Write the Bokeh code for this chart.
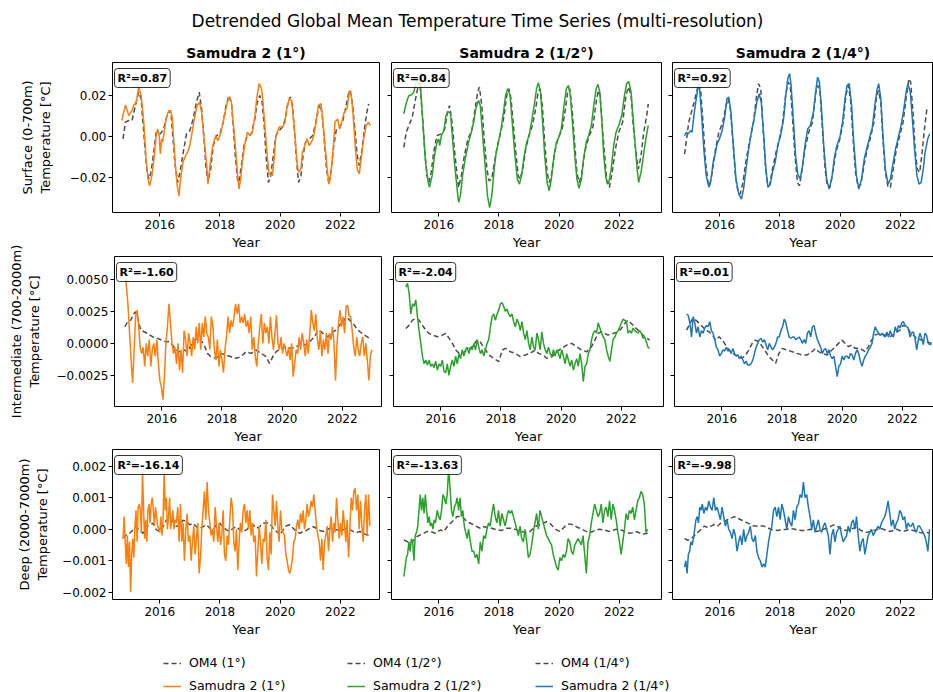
import numpy as np
from bokeh.plotting import figure
from bokeh.layouts import column, row
from bokeh.models import Range1d, FixedTicker, Label, Legend, LegendItem
from bokeh.embed import file_html
from bokeh.resources import INLINE

FONT = "DejaVu Sans"

# ---------------------------------------------------------------- labels
SUPTITLE = "Detrended Global Mean Temperature Time Series (multi-resolution)"
RESOLUTIONS = ["1°", "1/2°", "1/4°"]
SAMUDRA_COLORS = ["#ff7f0e", "#2ca02c", "#1f77b4"]
ROW_LABELS = ["Surface (0-700m)\nTemperature [°C]",
              "Intermediate (700-2000m)\nTemperature [°C]",
              "Deep (2000-7000m)\nTemperature [°C]"]
R2 = [["0.87", "0.84", "0.92"],
      ["-1.60", "-2.04", "0.01"],
      ["-16.14", "-13.63", "-9.98"]]
X_TICKS = [2016, 2018, 2020, 2022]
Y_TICKS = [[-0.02, 0.0, 0.02],
           [-0.0025, 0.0, 0.0025, 0.005],
           [-0.002, -0.001, 0.0, 0.001, 0.002]]
Y_TICK_LABELS = [["−0.02", "0.00", "0.02"],
                 ["−0.0025", "0.0000", "0.0025", "0.0050"],
                 ["−0.002", "−0.001", "0.000", "0.001", "0.002"]]

# ---------------------------------------------------------------- data
# Surface (0-700 m), values in 1e-3 degC
SURF_OM4_T_1 = [2014.78, 2014.86, 2014.97, 2015.08, 2015.19, 2015.30, 2015.38, 2015.44, 2015.52, 2015.58,
                2015.64, 2015.71, 2015.80, 2015.88, 2016.02, 2016.13, 2016.24, 2016.32, 2016.38, 2016.44,
                2016.51, 2016.60, 2016.69, 2016.80, 2016.89, 2017.00, 2017.11, 2017.22, 2017.31, 2017.39,
                2017.47, 2017.53, 2017.60, 2017.69, 2017.78, 2017.89, 2018.00, 2018.11, 2018.20, 2018.30,
                2018.38, 2018.44, 2018.51, 2018.58, 2018.63, 2018.71, 2018.80, 2018.91, 2019.04, 2019.16,
                2019.24, 2019.32, 2019.40, 2019.47, 2019.53, 2019.61, 2019.69, 2019.77, 2019.86, 2019.97,
                2020.08, 2020.17, 2020.24, 2020.33, 2020.41, 2020.48, 2020.54, 2020.61, 2020.69, 2020.76,
                2020.84, 2020.97, 2021.08, 2021.19, 2021.27, 2021.33, 2021.40, 2021.47, 2021.54, 2021.62,
                2021.70, 2021.78, 2021.87, 2021.97, 2022.07, 2022.17, 2022.28, 2022.33, 2022.41, 2022.49,
                2022.56, 2022.63, 2022.72, 2022.80, 2022.88, 2022.94]
SURF_OM4_V_1 = [-1.1, 7.0, 7.8, 7.8, 15.1, 21.6, 18.4, 7.0, -7.6, -17.4,
                -20.7, -17.4, -7.6, 2.1, 1.3, 3.7, 10.2, 12.7, 10.2, -1.1,
                -14.1, -22.3, -15.8, -6.0, 1.3, 2.9, 8.6, 16.7, 21.6, 13.5,
                -1.1, -14.1, -22.3, -15.8, -4.4, 0.5, 1.3, 7.0, 15.1, 20.0,
                16.7, 5.4, -9.3, -20.7, -22.3, -14.1, -4.4, 0.5, 1.3, 8.6,
                16.7, 20.0, 16.7, 5.4, -9.3, -22.3, -19.0, -9.3, 0.5, 2.9,
                4.6, 8.6, 15.1, 19.2, 15.1, 2.1, -10.9, -22.3, -19.0, -9.3,
                -2.8, -1.1, 0.5, 7.0, 13.5, 15.9, 10.2, -2.8, -15.8, -23.1,
                -15.8, -4.4, 3.7, 4.6, 7.0, 13.5, 21.6, 22.4, 15.1, 2.1,
                -9.3, -14.1, -6.0, 3.7, 11.9, 15.9]
SURF_S2_T_1 = [2014.74, 2014.86, 2014.97, 2015.08, 2015.13, 2015.22, 2015.30, 2015.38, 2015.47, 2015.54,
               2015.61, 2015.66, 2015.74, 2015.82, 2015.88, 2015.93, 2015.98, 2016.02, 2016.06, 2016.09,
               2016.13, 2016.21, 2016.28, 2016.36, 2016.41, 2016.47, 2016.52, 2016.58, 2016.64, 2016.69,
               2016.77, 2016.86, 2016.97, 2017.04, 2017.13, 2017.24, 2017.32, 2017.39, 2017.47, 2017.56,
               2017.60, 2017.67, 2017.76, 2017.86, 2017.93, 2018.02, 2018.13, 2018.22, 2018.30, 2018.38,
               2018.44, 2018.52, 2018.58, 2018.63, 2018.69, 2018.74, 2018.82, 2018.91, 2019.00, 2019.08,
               2019.16, 2019.22, 2019.30, 2019.38, 2019.43, 2019.50, 2019.57, 2019.63, 2019.74, 2019.80,
               2019.86, 2019.97, 2020.08, 2020.16, 2020.22, 2020.30, 2020.38, 2020.43, 2020.50, 2020.56,
               2020.61, 2020.69, 2020.74, 2020.82, 2020.89, 2020.97, 2021.06, 2021.13, 2021.19, 2021.27,
               2021.36, 2021.41, 2021.49, 2021.56, 2021.62, 2021.69, 2021.77, 2021.82, 2021.91, 2021.98,
               2022.04, 2022.13, 2022.22, 2022.30, 2022.38, 2022.44, 2022.50, 2022.56, 2022.63, 2022.69,
               2022.77, 2022.86, 2022.93, 2023.00]
SURF_S2_V_1 = [7.8, 15.4, 10.2, 12.7, 15.1, 16.7, 24.1, 20.0, 7.0, -9.3,
               -20.7, -23.9, -19.0, -9.3, 0.5, 3.7, 0.5, -8.5, -1.1, -2.8,
               0.5, 8.6, 11.9, 12.7, 9.4, -2.8, -14.1, -23.9, -28.8, -20.7,
               -12.5, -9.3, -6.0, -1.1, 7.0, 15.1, 16.7, 11.9, -1.1, -14.1,
               -23.1, -14.1, -4.4, 0.5, -2.0, 1.3, 8.6, 15.1, 19.2, 16.7,
               7.0, -6.0, -17.4, -25.5, -20.7, -12.5, -4.4, 2.1, 0.5, 2.1,
               10.2, 18.4, 25.7, 23.3, 16.7, 3.7, -9.3, -18.2, -19.0, -10.9,
               0.5, 4.6, 4.6, 7.0, 13.5, 18.4, 17.6, 10.2, -1.1, -12.5,
               -17.4, -15.8, -7.6, -4.4, -1.1, -4.4, -2.0, 1.3, 7.0, 15.1,
               15.9, 8.6, -4.4, -15.8, -23.1, -17.4, -4.4, 7.0, 8.6, 3.7,
               7.0, 11.9, 13.5, 22.4, 18.4, 7.0, -6.0, -15.8, -18.2, -10.9,
               -1.1, 5.4, 7.0, 5.4]

SURF_OM4_T_2 = [2014.84, 2014.92, 2015.01, 2015.12, 2015.23, 2015.32, 2015.37, 2015.45, 2015.54, 2015.61,
                2015.67, 2015.75, 2015.83, 2015.94, 2016.09, 2016.20, 2016.30, 2016.36, 2016.44, 2016.53,
                2016.61, 2016.66, 2016.75, 2016.85, 2016.97, 2017.10, 2017.21, 2017.29, 2017.35, 2017.43,
                2017.51, 2017.60, 2017.67, 2017.76, 2017.85, 2017.95, 2018.06, 2018.17, 2018.26, 2018.33,
                2018.40, 2018.48, 2018.57, 2018.64, 2018.70, 2018.79, 2018.89, 2019.00, 2019.11, 2019.22,
                2019.30, 2019.37, 2019.44, 2019.52, 2019.60, 2019.67, 2019.74, 2019.85, 2019.96, 2020.10,
                2020.21, 2020.28, 2020.35, 2020.43, 2020.52, 2020.59, 2020.66, 2020.74, 2020.85, 2020.98,
                2021.12, 2021.23, 2021.30, 2021.36, 2021.44, 2021.53, 2021.59, 2021.67, 2021.76, 2021.87,
                2021.98, 2022.11, 2022.22, 2022.30, 2022.39, 2022.46, 2022.55, 2022.63, 2022.72, 2022.81,
                2022.91, 2022.96]
SURF_OM4_V_2 = [-5.2, 2.1, 5.4, 9.4, 18.4, 24.9, 26.5, 11.9, -7.6, -19.0,
                -22.3, -17.4, -7.6, 0.5, 1.3, 3.7, 12.7, 15.1, 7.0, -7.6,
                -19.0, -24.7, -19.0, -9.3, -1.1, 2.9, 13.5, 21.6, 24.1, 15.1,
                -1.1, -15.8, -21.5, -20.7, -12.5, -4.4, 2.1, 10.2, 20.0, 23.3,
                18.4, 5.4, -9.3, -19.0, -20.7, -15.8, -6.0, 0.5, 5.4, 13.5,
                21.6, 23.3, 15.1, -2.8, -17.4, -22.3, -19.0, -7.6, -1.1, 3.7,
                13.5, 21.6, 23.3, 13.5, -4.4, -17.4, -22.3, -19.0, -7.6, -0.3,
                4.6, 16.7, 22.4, 20.0, 3.7, -12.5, -22.3, -24.7, -17.4, -6.0,
                2.1, 7.0, 20.0, 24.1, 20.0, 5.4, -7.6, -15.8, -9.3, 2.1,
                10.2, 15.9]
SURF_S2_T_2 = [2014.84, 2014.90, 2014.95, 2015.01, 2015.10, 2015.17, 2015.25, 2015.34, 2015.39, 2015.47,
               2015.56, 2015.65, 2015.69, 2015.78, 2015.86, 2015.94, 2016.00, 2016.03, 2016.09, 2016.17,
               2016.24, 2016.31, 2016.39, 2016.44, 2016.52, 2016.61, 2016.66, 2016.72, 2016.79, 2016.88,
               2016.99, 2017.08, 2017.16, 2017.23, 2017.32, 2017.38, 2017.45, 2017.54, 2017.62, 2017.69,
               2017.76, 2017.84, 2017.91, 2017.98, 2018.07, 2018.15, 2018.22, 2018.29, 2018.37, 2018.44,
               2018.53, 2018.61, 2018.68, 2018.75, 2018.84, 2018.92, 2019.00, 2019.08, 2019.17, 2019.25,
               2019.31, 2019.38, 2019.45, 2019.52, 2019.60, 2019.67, 2019.74, 2019.83, 2019.91, 2019.99,
               2020.07, 2020.16, 2020.24, 2020.31, 2020.37, 2020.44, 2020.52, 2020.59, 2020.66, 2020.74,
               2020.81, 2020.90, 2020.98, 2021.07, 2021.15, 2021.23, 2021.29, 2021.35, 2021.42, 2021.48,
               2021.56, 2021.64, 2021.73, 2021.81, 2021.89, 2021.98, 2022.08, 2022.17, 2022.24, 2022.31,
               2022.39, 2022.44, 2022.52, 2022.59, 2022.64, 2022.72, 2022.80, 2022.88, 2022.96]
SURF_S2_V_2 = [11.1, 15.1, 17.6, 20.0, 20.3, 21.6, 26.5, 28.1, 24.9, 7.0,
               -12.5, -22.3, -24.7, -19.0, -9.3, -2.8, -1.1, -4.4, 0.5, 2.9,
               10.2, 12.2, 11.1, 2.1, -12.5, -25.5, -32.0, -28.8, -19.0, -10.9,
               -2.8, 2.1, 7.0, 13.5, 17.6, 15.1, 2.1, -14.1, -28.8, -34.5,
               -28.8, -15.8, -7.6, -2.8, 3.7, 11.9, 20.0, 23.3, 20.0, 7.0,
               -9.3, -20.7, -23.1, -19.0, -9.3, -2.8, 0.5, 7.0, 15.1, 23.3,
               26.2, 21.6, 7.0, -9.3, -22.3, -26.3, -20.7, -9.3, -2.8, -0.3,
               3.7, 15.1, 23.3, 24.9, 20.0, 7.0, -9.3, -20.7, -25.2, -20.7,
               -10.9, -2.8, 0.5, 5.4, 15.1, 23.3, 25.4, 21.6, 7.0, -9.3,
               -20.7, -23.1, -15.8, -4.4, 2.1, 5.4, 10.2, 20.0, 25.7, 26.8,
               21.6, 11.9, -2.8, -15.8, -22.3, -17.4, -9.3, -1.1, 5.4]

SURF_OM4_T_3 = [2014.83, 2014.90, 2014.97, 2015.06, 2015.15, 2015.24, 2015.31, 2015.37, 2015.45, 2015.53,
                2015.61, 2015.67, 2015.75, 2015.86, 2015.97, 2016.10, 2016.21, 2016.28, 2016.35, 2016.44,
                2016.52, 2016.61, 2016.68, 2016.77, 2016.88, 2017.01, 2017.12, 2017.21, 2017.29, 2017.36,
                2017.42, 2017.51, 2017.58, 2017.65, 2017.75, 2017.87, 2017.98, 2018.09, 2018.19, 2018.27,
                2018.34, 2018.41, 2018.50, 2018.58, 2018.65, 2018.72, 2018.83, 2018.97, 2019.08, 2019.19,
                2019.25, 2019.33, 2019.41, 2019.50, 2019.57, 2019.66, 2019.75, 2019.86, 2019.99, 2020.10,
                2020.19, 2020.27, 2020.34, 2020.43, 2020.51, 2020.60, 2020.69, 2020.79, 2020.90, 2021.01,
                2021.12, 2021.20, 2021.27, 2021.35, 2021.42, 2021.50, 2021.59, 2021.67, 2021.76, 2021.87,
                2021.98, 2022.09, 2022.19, 2022.28, 2022.34, 2022.42, 2022.49, 2022.56, 2022.64, 2022.71,
                2022.80, 2022.88, 2022.93]
SURF_OM4_V_3 = [-8.5, -1.1, 7.0, 11.9, 16.7, 22.4, 25.7, 21.6, 5.4, -12.5,
                -22.3, -23.9, -17.4, -6.0, 2.1, 7.0, 15.1, 18.4, 13.5, -2.8,
                -19.0, -27.2, -28.0, -22.3, -10.9, -1.1, 7.0, 18.4, 25.7, 23.3,
                8.6, -12.5, -22.3, -23.9, -15.8, -7.6, -1.1, 7.0, 20.0, 26.5,
                24.9, 10.2, -9.3, -22.3, -23.9, -17.4, -6.0, 2.9, 7.0, 21.6,
                24.9, 21.6, 3.7, -15.8, -23.9, -24.7, -17.4, -7.6, -1.1, 7.0,
                20.0, 24.9, 18.4, -1.1, -17.4, -24.7, -23.1, -14.1, -6.0, -0.3,
                7.0, 18.4, 22.4, 16.7, -1.1, -17.4, -24.7, -24.7, -15.8, -6.0,
                0.5, 7.0, 18.4, 28.1, 26.5, 11.9, -6.0, -15.8, -17.4, -9.3,
                3.7, 13.5, 14.3]
SURF_S2_T_3 = [2014.83, 2014.89, 2014.95, 2015.03, 2015.08, 2015.14, 2015.22, 2015.28, 2015.33, 2015.39,
               2015.47, 2015.55, 2015.64, 2015.71, 2015.78, 2015.86, 2015.91, 2015.99, 2016.08, 2016.17,
               2016.24, 2016.30, 2016.37, 2016.45, 2016.54, 2016.63, 2016.72, 2016.79, 2016.87, 2016.96,
               2017.05, 2017.14, 2017.23, 2017.31, 2017.38, 2017.46, 2017.53, 2017.60, 2017.68, 2017.75,
               2017.84, 2017.93, 2018.02, 2018.12, 2018.19, 2018.26, 2018.32, 2018.37, 2018.45, 2018.52,
               2018.59, 2018.67, 2018.75, 2018.83, 2018.92, 2019.01, 2019.11, 2019.20, 2019.25, 2019.31,
               2019.38, 2019.46, 2019.55, 2019.63, 2019.72, 2019.80, 2019.89, 2019.99, 2020.08, 2020.16,
               2020.23, 2020.30, 2020.38, 2020.45, 2020.54, 2020.62, 2020.71, 2020.80, 2020.88, 2020.98,
               2021.07, 2021.15, 2021.23, 2021.28, 2021.35, 2021.42, 2021.50, 2021.59, 2021.67, 2021.76,
               2021.84, 2021.92, 2022.01, 2022.10, 2022.19, 2022.25, 2022.33, 2022.39, 2022.47, 2022.55,
               2022.62, 2022.69, 2022.76, 2022.82, 2022.91, 2022.97]
SURF_S2_V_3 = [0.5, 2.1, 1.3, 2.9, 2.1, 10.2, 18.4, 24.1, 23.3, 11.9,
               -6.0, -19.0, -24.7, -20.7, -12.5, -7.6, -3.6, -1.1, 2.9, 10.2,
               18.4, 19.2, 11.9, -4.4, -20.7, -28.0, -30.4, -25.5, -15.8, -6.0,
               2.1, 8.6, 16.7, 20.8, 16.7, 0.5, -15.8, -24.7, -23.1, -17.4,
               -12.5, -4.4, 0.5, 8.6, 20.0, 28.1, 30.6, 24.9, 7.0, -9.3,
               -18.2, -20.7, -14.1, -4.4, 3.7, 5.4, 11.9, 23.3, 28.9, 26.5,
               13.5, -6.0, -20.7, -25.5, -20.7, -10.9, -4.4, -0.3, 7.0, 18.4,
               24.9, 25.7, 15.1, -2.8, -19.0, -25.5, -20.7, -10.9, -6.0, -0.3,
               4.6, 15.1, 23.3, 25.7, 18.4, 0.5, -15.8, -23.1, -20.7, -12.5,
               -6.0, -1.1, 4.6, 11.9, 21.6, 25.7, 21.6, 10.2, -6.0, -19.0,
               -23.1, -22.3, -15.8, -7.6, -1.1, 1.3]

# Intermediate (700-2000 m), values in 1e-4 degC
MID_OM4_T_1 = [2014.78, 2014.86, 2014.97, 2015.08, 2015.13, 2015.19, 2015.30, 2015.41, 2015.52, 2015.69,
               2015.86, 2016.00, 2016.13, 2016.24, 2016.36, 2016.47, 2016.58, 2016.74, 2016.86, 2016.97,
               2017.08, 2017.19, 2017.30, 2017.41, 2017.52, 2017.63, 2017.80, 2017.97, 2018.13, 2018.30,
               2018.47, 2018.63, 2018.80, 2018.97, 2019.13, 2019.30, 2019.47, 2019.58, 2019.69, 2019.80,
               2019.97, 2020.13, 2020.30, 2020.47, 2020.63, 2020.80, 2020.97, 2021.08, 2021.19, 2021.30,
               2021.41, 2021.52, 2021.69, 2021.80, 2021.91, 2022.02, 2022.13, 2022.24, 2022.36, 2022.47,
               2022.58, 2022.74, 2022.91, 2022.98]
MID_OM4_V_1 = [13.0, 16.9, 18.2, 23.4, 24.7, 20.8, 10.4, 9.1, 7.8, 5.2,
               3.9, 2.6, 1.3, 1.3, -1.3, -5.2, -6.5, -5.2, -6.5, -1.3,
               2.6, 3.9, 2.6, -1.3, -7.8, -10.4, -11.7, -7.8, -9.1, -10.4,
               -11.7, -10.4, -6.5, -7.8, -5.2, -7.8, -10.4, -15.6, -10.4, -6.5,
               -3.9, -2.6, -3.9, -2.6, 0.0, -1.3, 2.6, 5.2, 10.4, 9.1,
               6.5, 5.2, 9.1, 10.4, 14.3, 16.9, 20.8, 18.2, 15.6, 11.7,
               9.1, 6.5, 3.9, 3.9]
MID_S2_V_1 = [55, 44, 29, 8, -13, -31, -5, 21, 26, 13,
              -3, -8, -3, -18, 0, -10, 3, -18, -5, 0,
              -10, 3, -16, -29, -34, -44, -26, 0, 13, 31,
              16, 0, -8, -3, -16, 0, -21, -5, -23, 10,
              3, -10, 8, 0, -10, 5, -5, 13, 0, 16,
              -5, 16, 5, 21, 8, 5, -5, 21, 13, -5,
              -13, 3, -18, -5, -13, -23, -5, 5, 21, 8,
              18, 13, 21, 31, 23, 31, 16, 21, 16, 23,
              13, 18, 8, 21, -5, 5, -10, -18, 0, 13,
              23, 0, 16, 8, 13, 0, 21, 5, -5, 8,
              22, 0, -5, 5, -8, 0, -5, -10, -3, -13,
              0, -26, -16, -5, -8, 5, -5, 8, 0, -10,
              3, -8, 8, 26, 16, 10, 23, 3, -5, 10,
              -10, 3, -5, 8, -8, 8, 3, 13, 0, -29,
              0, 16, 26, 13, 21, 8, 29, 30, 21, 21,
              10, -3, -10, 5, -5, -10, 0, 5, -10, 0,
              -13, -29, -10, -5]

MID_OM4_T_2 = [2014.84, 2014.95, 2015.06, 2015.17, 2015.28, 2015.39, 2015.50, 2015.61, 2015.72, 2015.89,
               2016.06, 2016.17, 2016.28, 2016.39, 2016.50, 2016.61, 2016.72, 2016.88, 2017.05, 2017.16,
               2017.27, 2017.38, 2017.49, 2017.60, 2017.76, 2017.93, 2018.04, 2018.15, 2018.31, 2018.48,
               2018.64, 2018.81, 2018.97, 2019.14, 2019.25, 2019.41, 2019.52, 2019.69, 2019.85, 2020.02,
               2020.19, 2020.35, 2020.52, 2020.68, 2020.85, 2021.01, 2021.12, 2021.23, 2021.34, 2021.45,
               2021.56, 2021.73, 2021.89, 2022.00, 2022.11, 2022.22, 2022.33, 2022.44, 2022.61, 2022.77,
               2022.94]
MID_OM4_V_2 = [11.7, 14.3, 18.2, 19.5, 18.2, 14.3, 10.4, 7.8, 6.5, 5.2,
               6.5, 7.8, 3.9, 0.0, -5.2, -7.8, -7.8, -5.2, -2.6, 1.3,
               2.6, -1.3, -5.2, -9.1, -11.7, -14.3, -5.2, -3.9, -6.5, -7.8,
               -10.4, -9.1, -7.8, -5.2, -7.8, -9.1, -11.7, -10.4, -6.5, -3.9,
               -1.3, 0.0, -2.6, -5.2, -6.5, -2.6, 2.6, 7.8, 9.1, 7.8,
               6.5, 7.8, 9.1, 11.7, 15.6, 18.2, 15.6, 13.0, 9.1, 5.2,
               2.6]
MID_S2_V_2 = [44, 47, 39, 23, 31, 29, 34, 21, 10, 0,
              -10, -16, -13, -17, -13, -18, -16, -19, -14, -21,
              -16, -18, -13, -22, -23, -16, -25, -18, -13, -18,
              -10, -16, -8, -12, -5, -10, -5, -3, -8, -3,
              -5, 0, -5, 3, -3, -8, -5, -10, -5, 0,
              3, 13, 21, 23, 18, 23, 26, 31, 32, 29,
              25, 27, 23, 21, 23, 17, 13, 19, 16, 10,
              17, 8, 3, 10, 0, -5, 5, -3, -5, 8,
              3, -5, 9, 0, -5, -8, -3, -8, -10, -5,
              -10, -5, -8, -12, -5, -10, -16, -8, -13, -18,
              -13, -21, -16, -12, -18, -8, -16, -30, -18, -16,
              -8, -5, 3, 8, 10, 8, 16, 12, 8, 5,
              3, -5, -10, -14, -5, 3, 5, 8, 10, 13,
              16, 19, 18, 17, 8, 10, 8, 12, 10, 9,
              8, 10, 8, 4, 5, 1, -3, -4]

MID_OM4_T_3 = [2014.83, 2014.92, 2015.03, 2015.14, 2015.25, 2015.36, 2015.47, 2015.58, 2015.69, 2015.80,
               2015.91, 2016.02, 2016.13, 2016.24, 2016.35, 2016.46, 2016.57, 2016.68, 2016.79, 2016.90,
               2017.01, 2017.12, 2017.23, 2017.35, 2017.46, 2017.57, 2017.68, 2017.79, 2017.90, 2018.01,
               2018.17, 2018.34, 2018.50, 2018.67, 2018.83, 2019.00, 2019.11, 2019.22, 2019.33, 2019.50,
               2019.66, 2019.77, 2019.88, 2019.99, 2020.10, 2020.21, 2020.32, 2020.43, 2020.60, 2020.76,
               2020.87, 2020.98, 2021.09, 2021.26, 2021.42, 2021.59, 2021.76, 2021.92, 2022.03, 2022.14,
               2022.25, 2022.36, 2022.47, 2022.64, 2022.80, 2022.97]
MID_OM4_V_3 = [10.4, 14.3, 19.5, 18.2, 15.6, 13.0, 10.4, 9.1, 6.5, 2.6,
               5.2, 2.6, -1.3, -5.2, -7.8, -9.1, -10.4, -11.7, -9.1, -5.2,
               0.0, 2.6, 1.3, -2.6, -6.5, -10.4, -13.0, -15.6, -7.8, -3.9,
               -5.2, -6.5, -7.8, -9.1, -9.1, -6.5, -3.9, -6.5, -7.8, -9.1,
               -5.2, -2.6, 0.0, 2.6, 0.0, -2.6, -1.3, -3.9, -3.9, -6.5,
               -2.6, 2.6, 6.5, 7.8, 6.5, 5.2, 7.8, 10.4, 14.3, 13.0,
               9.1, 6.5, 3.9, 2.6, 1.3, 0.0]
MID_S2_V_3 = [23, 22, 16, 5, 21, 16, 8, 13, 5, 10,
              8, 12, 14, 13, 17, 10, 8, 3, -3, -5,
              -10, -8, -5, -6, -3, -6, -5, -8, -4, -8,
              -10, -9, -12, -10, -13, -16, -14, -17, -17, -16,
              -13, -8, -3, 0, 3, 4, 1, 3, -1, -5,
              0, -3, -5, -3, 0, 5, 5, 10, 13, 19,
              16, 10, 5, 4, 5, 5, 3, 4, 5, 3,
              0, 3, 0, 8, 10, 5, 13, 14, 8, 3,
              0, -3, -8, -5, -4, -8, -5, -10, -12, -10,
              -18, -26, -18, -16, -10, -13, -10, -10, -12, -8,
              -9, -13, -8, -5, -8, -14, -18, -13, -10, -8,
              -5, -3, 0, 8, 13, 10, 8, 6, 8, 6,
              5, 9, 5, 10, 6, 5, 13, 9, 14, 12,
              16, 17, 14, 13, 12, 5, 8, 9, 4, -5,
              3, 8, 4, -1, 8, 6, 0, -1, 0]

# Deep (2000-7000 m), values in 1e-4 degC
DEEP_OM4_V_1 = [-2.8, -1.8, -1.3, -0.2, 0.8, -0.4, -1.3, 0.8, 1.4, 1.9,
                -0.2, -0.7, 0.8, 2.9, 3.5, 2.4, 0.8, 1.4, 2.9, 2.4,
                1.4, 1.9, 0.8, 0.3, 0.8, 1.4, 0.3, -0.2, 1.4, 1.9,
                0.8, -0.2, -0.7, 0.3, 0.8, -0.2, -0.7, -0.2, 0.8, 1.4,
                0.3, 0.8, 1.9, 2.1, 1.7, 0.3, -0.7, -1.8, -0.2, 1.1,
                1.4, 0.3, -0.7, -1.3, -0.7, -0.4, 0.3, 0.8, 0.3, -0.4,
                -0.7, -0.2, 0.3, 0.3, -0.2, -0.4, -0.2, 0.3, -0.2, -0.7,
                -1.1, -0.7, -1.3, -1.8, -1.8]
DEEP_S2_V_1 = [-3, 4, -4, -11, -2, -12, -4, -20, -8, -3,
               -9, 1, 6, -4, 7, 8, 6, -1, 18, 6,
               -3, 3, -4, 6, 8, 2, 8, 10, 6, 1,
               7, 4, 1, 0, -1, 4, -2, 3, 18, 6,
               10, 0, 4, 10, 0, 3, 6, 0, 3, 2,
               7, -4, 8, -4, 2, -10, 0, 5, -4, -2,
               -10, -4, 1, -8, -3, 2, -14, -9, 0, 6,
               12, 3, 15, 6, 2, -2, 0, -4, 7, 1,
               -4, 2, -5, -2, 6, -8, -10, -2, -5, 3,
               10, 7, -4, -7, 0, -13, -4, 2, -1, 6,
               8, 2, 6, 0, 6, -2, 2, -4, -2, -15,
               -7, 1, -4, -11, -3, -4, 3, -9, -13, -1,
               -8, 11, 6, 1, 9, 1, -4, 6, 0, -1,
               -2, -8, -10, -13, -14, -12, -9, -4, -3, 1,
               3, 0, 5, 2, 6, 0, 3, 8, 4, 6,
               9, 7, 11, 6, 1, -2, -4, -10, -3, -13,
               -4, -2, 1, -7, 0, 4, -4, 2, -1, 10,
               3, -3, 2, -2, 6, 1, -4, 3, -9, 0,
               10, 6, 12, 13, 6, 11, 0, 9, 1, -4,
               6, 11, -2, 11, 1]

DEEP_OM4_T_2 = [2014.84, 2014.95, 2015.06, 2015.17, 2015.28, 2015.39, 2015.50, 2015.61, 2015.72, 2015.89,
                2016.06, 2016.17, 2016.28, 2016.39, 2016.50, 2016.61, 2016.72, 2016.83, 2016.94, 2017.05,
                2017.16, 2017.27, 2017.38, 2017.49, 2017.60, 2017.76, 2017.93, 2018.09, 2018.26, 2018.42,
                2018.59, 2018.75, 2018.92, 2019.03, 2019.14, 2019.25, 2019.36, 2019.47, 2019.58, 2019.69,
                2019.80, 2019.91, 2020.02, 2020.13, 2020.24, 2020.35, 2020.46, 2020.57, 2020.68, 2020.79,
                2020.90, 2021.01, 2021.12, 2021.23, 2021.34, 2021.45, 2021.56, 2021.67, 2021.78, 2021.89,
                2022.00, 2022.11, 2022.22, 2022.33, 2022.44, 2022.55, 2022.66, 2022.77, 2022.94]
DEEP_OM4_V_2 = [-3.4, -3.9, -4.4, -3.4, -2.3, -1.8, -1.3, -0.7, -0.7, -1.3,
                -0.2, -0.7, 0.8, 1.9, 2.9, 4.0, 4.0, 3.5, 2.4, 1.9,
                1.4, 0.8, 0.3, 0.8, 0.6, 0.3, -0.2, -0.4, 0.3, 0.3,
                -0.2, -0.7, -1.1, -0.7, 0.3, 1.1, 1.4, 1.9, 2.4, 1.9,
                0.8, -0.2, -0.7, 0.3, 1.4, 1.7, 1.4, 0.8, 0.3, -0.2,
                -0.7, -1.1, -0.7, -0.2, 0.0, -0.2, -0.4, -0.7, -0.4, 0.0,
                -0.2, -0.4, -1.1, -1.3, -1.1, -0.7, -1.1, -1.5, -1.3]
DEEP_S2_V_2 = [-15, -12, -9, -8, -4, -7, -3, -4, -10, -2,
               -1, 1, 6, 11, 6, 10, 5, 11, 6, 2,
               4, 1, 2, 0, 3, 2, 6, 4, 3, 6,
               11, 10, 8, 11, 19, 13, 6, 4, 7, 8,
               10, 6, 10, 4, 6, 1, -1, -3, 0, -4,
               -7, -7, -9, -8, -11, -4, -7, -2, -3, 0,
               2, 1, 5, 8, 4, 2, 6, 1, 5, 3,
               1, 4, 6, 5, 6, 4, 2, 0, -2, 1,
               -3, -4, 0, -4, -9, -8, -5, -1, 2, 5,
               0, 6, 4, 2, 0, -2, -3, -4, -5, -8,
               -10, -12, -13, -9, -10, -8, -9, -7, -3, -4,
               -7, -8, -5, -4, -3, -4, -5, -2, -8, -14,
               -4, -2, 2, 5, 8, 6, 4, 5, 8, 2,
               6, 7, 4, 9, 3, 8, 6, 3, -1, -4,
               -8, -4, 0, 5, 3, 6, 5, 7, 3, 6,
               9, 10, 12, 11, 8, -1, 0]

DEEP_OM4_V_3 = [-3.0, -3.5, -3.0, -2.0, -1.0, 0.0, 1.0, 0.5, 1.0, 1.5,
                1.0, 2.0, 2.5, 3.0, 3.5, 4.0, 3.5, 3.0, 2.5, 2.0,
                1.5, 1.0, 1.0, 1.0, 1.0, 0.5, 0.0, -0.2, -0.4, -0.2,
                -0.1, 0.0, 0.2, 0.1, -0.2, -0.4, -0.4, -0.3, 0.0, -0.4,
                -0.7, -0.4, 0.0, 0.3, 0.8, 1.4, 1.0, 0.3, -0.2, -0.4,
                0.0, 0.3, 0.8, -0.2, -0.7, -1.0, -0.7, -0.4, -0.2, 0.3,
                0.0, -0.4, -0.7, -0.4, 0.0, -0.4, -0.7, -0.4, 0.0, -0.4,
                -0.7, -1.0, -1.2, -1.0, -1.2]
DEEP_S2_V_3 = [-12, -10, -14, -8, -7, -4, -5, -3, 0, 3,
               4, 2, 7, 6, 8, 5, 7, 6, 9, 7,
               6, 10, 6, 7, 5, 3, 7, 4, 1, 3,
               0, -1, -3, 0, -2, -7, -4, -2, -5, 0,
               -4, -2, -1, 1, -3, -4, -2, -7, -9, -10,
               -12, -11, -12, -8, -4, -1, 1, 6, 7, 4,
               7, 3, 8, 6, 3, 0, 4, 2, 1, 6,
               3, 7, 8, 11, 10, 15, 10, 11, 7, 4,
               0, 3, -1, 1, 3, 0, -1, 1, 2, 0,
               -2, -8, -2, 0, -4, -1, 0, 1, -2, -4,
               -3, -2, 1, -1, 2, 3, 0, 4, -2, -7,
               -4, -3, -8, -5, -2, -1, 0, -2, -1, 0,
               1, 0, 2, 3, 4, 6, 9, 5, 1, 3,
               0, 2, 3, 6, 5, 3, 4, 0, 2, 1,
               1, 2, 0, -1, 1, 1, 0, -1, -2, -4,
               -7, 0]

# sampling times of the densely read series (readings taken at even steps)
MID_S2_T_1 = np.linspace(2014.78, 2022.98, len(MID_S2_V_1))
MID_S2_T_2 = np.linspace(2014.84, 2022.94, len(MID_S2_V_2))
MID_S2_T_3 = np.linspace(2014.83, 2022.97, len(MID_S2_V_3))
DEEP_OM4_T_1 = np.linspace(2014.78, 2022.98, len(DEEP_OM4_V_1))
DEEP_OM4_T_3 = np.linspace(2014.83, 2022.97, len(DEEP_OM4_V_3))
DEEP_S2_T_1 = np.concatenate([np.linspace(2014.78, 2016.47, 48), np.linspace(2016.51, 2022.98, 147)])
DEEP_S2_T_2 = np.concatenate([np.linspace(2014.84, 2015.89, 26), np.linspace(2015.95, 2016.99, 23),
                              np.linspace(2017.05, 2022.94, 108)])
DEEP_S2_T_3 = np.concatenate([np.linspace(2014.83, 2015.42, 15), np.linspace(2015.47, 2022.97, 137)])

SCALE = [1e-3, 1e-4, 1e-4]
SERIES = [
    [(SURF_OM4_T_1, SURF_OM4_V_1, SURF_S2_T_1, SURF_S2_V_1),
     (SURF_OM4_T_2, SURF_OM4_V_2, SURF_S2_T_2, SURF_S2_V_2),
     (SURF_OM4_T_3, SURF_OM4_V_3, SURF_S2_T_3, SURF_S2_V_3)],
    [(MID_OM4_T_1, MID_OM4_V_1, MID_S2_T_1, MID_S2_V_1),
     (MID_OM4_T_2, MID_OM4_V_2, MID_S2_T_2, MID_S2_V_2),
     (MID_OM4_T_3, MID_OM4_V_3, MID_S2_T_3, MID_S2_V_3)],
    [(DEEP_OM4_T_1, DEEP_OM4_V_1, DEEP_S2_T_1, DEEP_S2_V_1),
     (DEEP_OM4_T_2, DEEP_OM4_V_2, DEEP_S2_T_2, DEEP_S2_V_2),
     (DEEP_OM4_T_3, DEEP_OM4_V_3, DEEP_S2_T_3, DEEP_S2_V_3)],
]

# ---------------------------------------------------------------- layout constants
X_RANGES = [(2014.43, 2023.30), (2014.43, 2023.40), (2014.43, 2023.10)]
Y_RANGES = [(-0.0369, 0.0360), (-0.00494, 0.0068), (-0.00223, 0.00253)]
FRAME_W = [267, 270, 261]
FRAME_H = 150
STRIP_W = 53                      # strip holding the row (y-axis) labels
BORDER_L = [112 - STRIP_W, 11, 10]
BORDER_R = [1, 1, 0]
BORDER_T = [22, 1, 1]
BORDER_B = [43, 42, 40]
ROW_LABEL_POS = [(36, 502), (25, 308), (33, 115)]   # screen px inside the label strip
OM4_STYLE = dict(line_color="black", line_alpha=0.7, line_dash="5 3", line_width=1.5)


def xy(t, v, scale):
    n = min(len(t), len(v))
    return np.asarray(t[:n], dtype=float), np.asarray(v[:n], dtype=float) * scale


def style_axis(ax):
    ax.axis_line_color = None
    ax.major_tick_line_color = "black"
    ax.major_tick_out = 4
    ax.major_tick_in = 0
    ax.minor_tick_line_color = None
    ax.major_label_text_font = FONT
    ax.major_label_text_font_size = "12px"
    ax.major_label_text_color = "black"
    ax.axis_label_text_font = FONT
    ax.axis_label_text_font_size = "13px"
    ax.axis_label_text_font_style = "normal"
    ax.axis_label_text_color = "black"


def blank_fig(w, h):
    f = figure(width=w, height=h, x_range=Range1d(0, 1), y_range=Range1d(0, 1),
               x_axis_type=None, y_axis_type=None, output_backend="svg",
               toolbar_location=None, min_border=0, outline_line_color=None)
    f.xgrid.visible = False
    f.ygrid.visible = False
    return f


header = blank_fig(933, 40)
header.add_layout(Label(x=477, y=20, x_units="screen", y_units="screen", text=SUPTITLE,
                        text_font=FONT, text_font_size="17px", text_align="center",
                        text_baseline="middle", text_color="black"))

strip = blank_fig(STRIP_W, sum(BORDER_T) + sum(BORDER_B) + 3 * FRAME_H)
for r in range(3):
    lx, ly = ROW_LABEL_POS[r]
    strip.add_layout(Label(x=lx, y=ly, x_units="screen", y_units="screen", text=ROW_LABELS[r],
                           angle=90, angle_units="deg", text_font=FONT, text_font_size="13px",
                           text_align="center", text_baseline="middle", text_color="black"))

rows = []
for r in range(3):
    figs = []
    for c in range(3):
        kw = dict(frame_width=FRAME_W[c], frame_height=FRAME_H,
                  x_range=Range1d(*X_RANGES[c]), y_range=Range1d(*Y_RANGES[r]),
                  output_backend="svg", toolbar_location=None,
                  min_border_left=BORDER_L[c], min_border_right=BORDER_R[c],
                  min_border_top=BORDER_T[r], min_border_bottom=BORDER_B[r],
                  background_fill_color="white", border_fill_color="white")
        if r == 0:
            p = figure(title=f"Samudra 2 ({RESOLUTIONS[c]})", **kw)
            p.title.align = "center"
            p.title.text_font = FONT
            p.title.text_font_size = "14px"
            p.title.text_font_style = "bold"
            p.title.text_color = "black"
            p.title.standoff = 4
        else:
            p = figure(title=None, **kw)
        p.xgrid.visible = False
        p.ygrid.visible = False
        p.outline_line_color = "black"
        p.outline_line_width = 1
        p.outline_line_alpha = 1

        style_axis(p.xaxis[0])
        style_axis(p.yaxis[0])
        p.xaxis.ticker = FixedTicker(ticks=X_TICKS)
        p.xaxis.major_label_overrides = {t: str(t) for t in X_TICKS}
        p.xaxis.major_label_standoff = 3
        p.xaxis.axis_label = "Year"
        p.xaxis.axis_label_standoff = 3
        p.yaxis.ticker = FixedTicker(ticks=Y_TICKS[r])
        if c == 0:
            p.yaxis.major_label_overrides = dict(zip(Y_TICKS[r], Y_TICK_LABELS[r]))
            p.yaxis.major_label_standoff = 2
        else:
            p.yaxis.major_label_overrides = {t: "" for t in Y_TICKS[r]}
            p.yaxis.major_label_standoff = 0

        t_o, v_o, t_s, v_s = SERIES[r][c]
        xo, yo = xy(t_o, v_o, SCALE[r])
        xs, ys = xy(t_s, v_s, SCALE[r])
        p.line(xo, yo, **OM4_STYLE)
        p.line(xs, ys, line_color=SAMUDRA_COLORS[c], line_width=1.5)

        p.add_layout(Label(x=2, y=FRAME_H - 6, x_units="screen", y_units="screen",
                           text=f"R²={R2[r][c]}", text_font=FONT, text_font_size="11px",
                           text_font_style="bold", text_color="black",
                           text_align="left", text_baseline="top",
                           background_fill_color="white", background_fill_alpha=0.85,
                           border_line_color="black", border_line_width=1,
                           border_line_alpha=0.8, padding=3, border_radius=3))
        figs.append(p)
    rows.append(row(*figs, spacing=0))

legend_fig = blank_fig(933, 53)
LEGEND_X = [163, 347, 535]
for c in range(3):
    # legend samples only: the data lie outside the (hidden) ranges of this strip
    r_om4 = legend_fig.line(x=[-2, -1], y=[-2, -1], **OM4_STYLE)
    r_s2 = legend_fig.line(x=[-2, -1], y=[-2, -1], line_color=SAMUDRA_COLORS[c], line_width=1.5)
    leg = Legend(items=[LegendItem(label=f"OM4 ({RESOLUTIONS[c]})", renderers=[r_om4]),
                        LegendItem(label=f"Samudra 2 ({RESOLUTIONS[c]})", renderers=[r_s2])],
                 location=(LEGEND_X[c], -1), orientation="vertical",
                 glyph_width=18, glyph_height=14, label_height=14, label_standoff=8,
                 spacing=8, padding=0, margin=0, border_line_color=None,
                 background_fill_alpha=0, label_text_font=FONT,
                 label_text_font_size="12.5px", label_text_color="black")
    legend_fig.add_layout(leg)

layout = column(header, row(strip, column(*rows, spacing=0), spacing=0), legend_fig, spacing=0)

with open("out.html", "w") as f:
    f.write(file_html(layout, INLINE))
